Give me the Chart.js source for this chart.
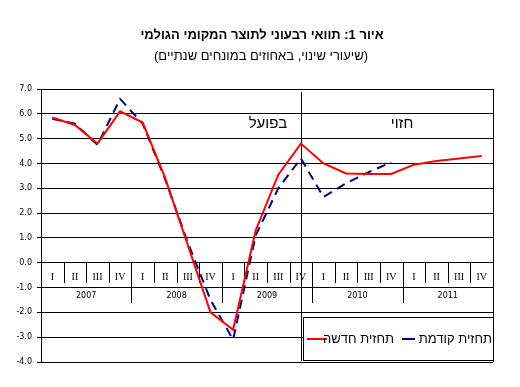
<!DOCTYPE html>
<html lang="he">
<head>
<meta charset="utf-8">
<script src="https://cdn.jsdelivr.net/npm/chart.js@4"></script>
<style>
  html, body { margin: 0; padding: 0; background: #ffffff; }
  canvas { display: block; }
</style>
</head>
<body>
<canvas id="c" width="520" height="387"></canvas>
<script>
// ---- data ----
const quarterNames = ['I', 'II', 'III', 'IV'];
const years = ['2007', '2008', '2009', '2010', '2011'];
const quarters = years.flatMap(() => quarterNames);
// new forecast (red)
const newForecast = [5.85, 5.55, 4.8, 6.1, 5.65, 3.4, 0.7, -2.0, -2.7, 1.3, 3.55, 4.8,
                     4.0, 3.6, 3.58, 3.58, 3.95, 4.1, 4.2, 4.3];
// previous forecast (navy, dashed)
const prevForecast = [5.8, 5.6, 4.75, 6.6, 5.6, 3.35, 0.8, -1.5, -3.1, 1.1, 3.0, 4.2,
                      2.65, 3.2, 3.65, 4.05, null, null, null, null];
const yMin = -4, yMax = 7, yStep = 1;
const lastActualIndex = 11; // 2009 IV

const titleText = 'איור 1: תוואי רבעוני לתוצר המקומי הגולמי';
const subtitleText = '(שיעורי שינוי, באחוזים במונחים שנתיים)';
const actualText = 'בפועל';
const forecastText = 'חזוי';
const newLabel = 'תחזית חדשה';
const prevLabel = 'תחזית קודמת';

const RED = '#ff0000';
const NAVY = '#000080';

const overlay = {
  id: 'overlay',
  beforeDatasetsDraw(chart) {
    const { ctx, chartArea: a, scales: { x, y } } = chart;
    const n = quarters.length;
    const band = x.getPixelForValue(1) - x.getPixelForValue(0);
    const y0 = Math.round(y.getPixelForValue(0));
    const yM1 = y.getPixelForValue(-1);
    ctx.save();
    ctx.strokeStyle = '#000';
    ctx.lineWidth = 1;
    // separators
    for (let i = 1; i < n; i++) {
      const bx = Math.round(x.getPixelForValue(i) - band / 2) + 0.5;
      const isYear = i % 4 === 0;
      ctx.beginPath();
      ctx.moveTo(bx, y0);
      ctx.lineTo(bx, y0 + (isYear ? 40 : 20));
      ctx.stroke();
    }
    // right border
    ctx.beginPath();
    ctx.moveTo(Math.round(a.right) + 0.5, a.top);
    ctx.lineTo(Math.round(a.right) + 0.5, a.bottom);
    ctx.stroke();
    // actual / forecast divider
    const vx = Math.round(x.getPixelForValue(lastActualIndex)) + 0.5;
    ctx.beginPath();
    ctx.moveTo(vx, a.top + 3);
    ctx.lineTo(vx, a.bottom - 1);
    ctx.stroke();
    // quarter labels
    ctx.fillStyle = '#000';
    ctx.textAlign = 'center';
    ctx.textBaseline = 'middle';
    ctx.font = '10px "Liberation Serif"';
    for (let i = 0; i < n; i++) {
      ctx.fillText(quarters[i], x.getPixelForValue(i), y0 + 14);
    }
    // year labels
    ctx.font = '8px "DejaVu Sans"';
    years.forEach((yr, k) => {
      const cx = (x.getPixelForValue(4 * k) + x.getPixelForValue(4 * k + 3)) / 2;
      ctx.fillText(yr, cx, yM1 + 8);
    });
    ctx.restore();
  },
  afterDraw(chart) {
    const { ctx, chartArea: a } = chart;
    ctx.save();
    ctx.fillStyle = '#000';
    ctx.direction = 'rtl';
    ctx.textAlign = 'center';
    ctx.textBaseline = 'middle';
    ctx.font = 'bold 13px "Liberation Sans"';
    ctx.fillText(titleText, 262, 35);
    ctx.font = '13px "Liberation Sans"';
    ctx.fillText(subtitleText, 261, 56);
    ctx.font = '15px "Liberation Sans"';
    ctx.fillText(actualText, 268, 124);
    ctx.fillText(forecastText, 402, 124);

    // legend box
    const lx = 303.5, ly = 317.5, lr = Math.round(a.right) + 0.5, lb = 360.5;
    ctx.fillStyle = '#fff';
    ctx.fillRect(lx, ly, lr - lx, lb - ly);
    ctx.strokeStyle = '#000';
    ctx.lineWidth = 1;
    ctx.strokeRect(lx, ly, lr - lx, lb - ly);
    const my = 339;
    ctx.lineWidth = 2;
    ctx.strokeStyle = RED;
    ctx.beginPath(); ctx.moveTo(307, my); ctx.lineTo(327, my); ctx.stroke();
    ctx.strokeStyle = NAVY;
    ctx.beginPath(); ctx.moveTo(402, my); ctx.lineTo(415, my); ctx.stroke();
    ctx.fillStyle = '#000';
    ctx.font = '13px "Liberation Sans"';
    ctx.textAlign = 'right';
    ctx.fillText(newLabel, 394, my);
    ctx.fillText(prevLabel, 492, my);
    ctx.restore();
  }
};

new Chart(document.getElementById('c'), {
  type: 'line',
  data: {
    labels: quarters,
    datasets: [
      {
        label: newLabel,
        data: newForecast,
        borderColor: RED,
        borderWidth: 2,
        pointRadius: 0,
        tension: 0,
        fill: false
      },
      {
        label: prevLabel,
        data: prevForecast,
        borderColor: NAVY,
        borderWidth: 2,
        borderDash: [9, 6],
        pointRadius: 0,
        tension: 0,
        fill: false,
        spanGaps: false
      }
    ]
  },
  options: {
    responsive: false,
    animation: false,
    devicePixelRatio: 1,
    layout: { padding: { left: 0, right: 27, top: 89, bottom: 25 } },
    plugins: {
      legend: { display: false },
      title: { display: false },
      tooltip: { enabled: false }
    },
    scales: {
      x: {
        type: 'category',
        offset: true,
        display: false
      },
      y: {
        min: yMin,
        max: yMax,
        afterFit(scale) { scale.width = 41; },
        ticks: {
          stepSize: yStep,
          color: '#000',
          font: { family: 'DejaVu Sans', size: 8 },
          padding: 5,
          callback: (v) => Number(v).toFixed(1)
        },
        grid: {
          color: '#000',
          lineWidth: 1,
          tickLength: 4,
          drawTicks: true
        },
        border: { color: '#000', width: 1 }
      }
    }
  },
  plugins: [overlay]
});
</script>
</body>
</html>
